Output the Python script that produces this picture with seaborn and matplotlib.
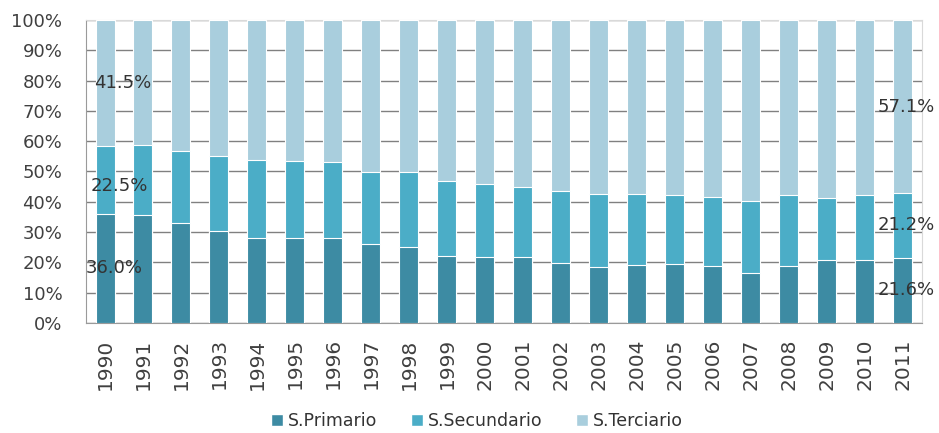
import matplotlib
matplotlib.use("Agg")
import matplotlib.pyplot as plt
import seaborn as sns
import pandas as pd
from matplotlib.patches import Patch

years = [str(y) for y in range(1990, 2012)]
primario = [36.0, 35.8, 33.0, 30.3, 28.2, 28.2, 28.2, 26.2, 25.1, 22.0, 21.8,
            21.8, 19.9, 18.5, 19.1, 19.6, 18.8, 16.6, 18.8, 20.9, 20.7, 21.6]
secundario = [22.5, 22.8, 23.9, 24.9, 25.6, 25.1, 24.8, 23.6, 24.7, 24.9, 24.1,
              23.2, 23.8, 24.1, 23.5, 22.5, 22.9, 23.8, 23.3, 20.4, 21.4, 21.2]
terciario = [41.5, 41.4, 43.1, 44.8, 46.2, 46.7, 47.0, 50.2, 50.2, 53.1, 54.1,
             55.0, 56.3, 57.4, 57.4, 57.9, 58.3, 59.6, 57.9, 58.7, 57.9, 57.1]
series_names = ["S.Primario", "S.Secundario", "S.Terciario"]
colors = ["#3d8ba3", "#4badc7", "#a9cedd"]

df = pd.DataFrame({"year": years, "prim": primario, "sec": secundario, "ter": terciario})
df["cum1"] = df["prim"]
df["cum2"] = df["prim"] + df["sec"]
df["cum3"] = df["cum2"] + df["ter"]

sns.set_style("white")
plt.rcParams["font.family"] = ["DejaVu Sans"]

fig = plt.figure(figsize=(9.39, 4.33), dpi=100)
ax = fig.add_axes([0.0916, 0.254, 0.890, 0.700])

# stacked bars drawn as overlapping cumulative totals
for col, c in zip(["cum3", "cum2", "cum1"], colors[::-1]):
    sns.barplot(data=df, x="year", y=col, color=c, width=0.5, saturation=1,
                edgecolor="white", linewidth=0.8, ax=ax, zorder=3)

ax.set_ylim(0, 100)
ax.set_xlim(-0.5, len(years) - 0.5)
ax.set_yticks(range(0, 101, 10))
ax.set_yticklabels([f"{v}%" for v in range(0, 101, 10)], fontsize=13, color="#404040")
ax.tick_params(axis="x", labelrotation=90, labelsize=14.5, labelcolor="#404040", length=0, pad=11)
ax.tick_params(axis="y", length=6, color="#888888", direction="out", pad=11)
ax.set_xlabel("")
ax.set_ylabel("")
ax.yaxis.grid(True, color="#808080", linewidth=1.0, zorder=0)
ax.set_axisbelow(True)
for s in ["top", "right"]:
    ax.spines[s].set_color("#d9d9d9")
for s in ["left", "bottom"]:
    ax.spines[s].set_color("#9a9a9a")

# data labels for the first and last years
lab_kw = dict(fontsize=13, color="#333333", va="center", ha="left", zorder=5, clip_on=False)
i0, i1 = 0, len(years) - 1
ax.text(i0 - 0.5, primario[i0] / 2, f"{primario[i0]:.1f}%", **lab_kw)
ax.text(i0 - 0.38, primario[i0] + secundario[i0] / 2 - 2, f"{secundario[i0]:.1f}%", **lab_kw)
ax.text(i0 - 0.28, primario[i0] + secundario[i0] + terciario[i0] / 2, f"{terciario[i0]:.1f}%", **lab_kw)
ax.text(i1 - 0.67, primario[i1] / 2, f"{primario[i1]:.1f}%", **lab_kw)
ax.text(i1 - 0.67, primario[i1] + secundario[i1] / 2, f"{secundario[i1]:.1f}%", **lab_kw)
ax.text(i1 - 0.67, primario[i1] + secundario[i1] + terciario[i1] / 2, f"{terciario[i1]:.1f}%", **lab_kw)

handles = [Patch(facecolor=c, label=n) for c, n in zip(colors, series_names)]
fig.legend(handles=handles, loc="lower center", bbox_to_anchor=(0.508, -0.03), ncol=3,
           frameon=False, fontsize=12.5, handlelength=0.7, handleheight=0.7,
           handletextpad=0.3, columnspacing=1.9, labelcolor="#333333")

fig.savefig("out.png", dpi=100)
